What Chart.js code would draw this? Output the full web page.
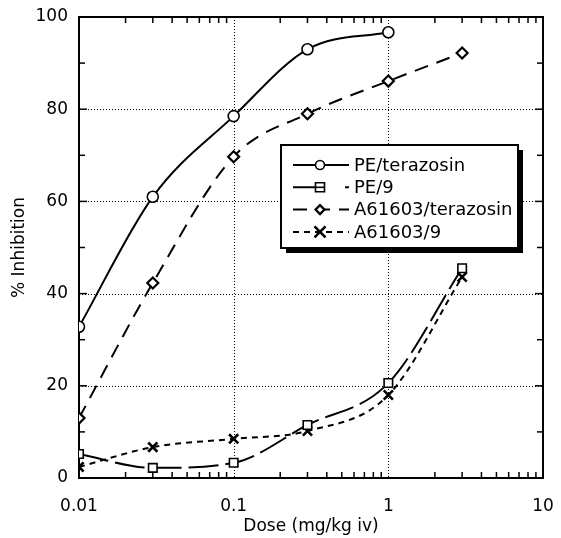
<!DOCTYPE html>
<html>
<head>
<meta charset="utf-8">
<script src="https://cdn.jsdelivr.net/npm/chart.js@4.4.1/dist/chart.umd.min.js"></script>
<style>
  html, body { margin: 0; background: #fff; }
  #wrap { width: 561px; height: 538px; }
</style>
</head>
<body>
<div id="wrap"><canvas id="chartCanvas"></canvas></div>
<script>
// Datos (dosis en mg/kg iv, % de inhibición)
const doses = [0.01, 0.03, 0.1, 0.3, 1, 3];
const seriesNames = ['PE/terazosin', 'PE/9', 'A61603/terazosin', 'A61603/9'];
const peTerazosin = [32.8, 61, 78.5, 93, 96.7, null];
const pe9 = [5.2, 2.2, 3.3, 11.5, 20.6, 45.5];
const a61603Terazosin = [13, 42.3, 69.7, 79, 86.1, 92.2];
const a61603_9 = [2.4, 6.7, 8.5, 10.2, 18, 43.6];

const xTickValues = [0.01, 0.1, 1, 10];
const xTickLabels = ['0.01', '0.1', '1', '10'];
const yTickValues = [0, 20, 40, 60, 80, 100];

// Convierte una serie a puntos {x, y}
const toPoints = (vals) => doses
  .map((d, i) => ({ x: d, y: vals[i] }))
  .filter(p => p.y !== null);

const FONT = 'DejaVu Sans';
Chart.defaults.font.family = FONT;
Chart.defaults.font.size = 17;
Chart.defaults.color = '#000';

const baseDs = {
  borderColor: '#000',
  backgroundColor: '#fff',
  pointBackgroundColor: '#fff',
  pointBorderColor: '#000',
  borderWidth: 2,
  pointBorderWidth: 1.6,
  pointRadius: 5.5,
  cubicInterpolationMode: 'monotone',
  fill: false
};

const datasets = [
  { ...baseDs, label: seriesNames[0], data: toPoints(peTerazosin), pointStyle: 'circle', borderDash: [] },
  { ...baseDs, label: seriesNames[1], data: toPoints(pe9), pointStyle: 'rect', pointRadius: 6, borderDash: [30, 7] },
  { ...baseDs, label: seriesNames[2], data: toPoints(a61603Terazosin), pointStyle: 'rectRot', pointBorderWidth: 2.2, borderDash: [14, 9] },
  { ...baseDs, label: seriesNames[3], data: toPoints(a61603_9), pointStyle: 'crossRot', pointRadius: 6.5, pointBorderWidth: 2.6, borderDash: [6, 5] }
];

// Dibuja un marcador simple para la leyenda
function drawMarker(ctx, style, x, y, r) {
  ctx.save();
  ctx.setLineDash([]);
  ctx.strokeStyle = '#000';
  ctx.fillStyle = '#fff';
  ctx.lineWidth = 1.6;
  ctx.beginPath();
  if (style === 'circle') {
    ctx.arc(x, y, r, 0, Math.PI * 2);
    ctx.fill(); ctx.stroke();
  } else if (style === 'rect') {
    ctx.rect(x - r, y - r, 2 * r, 2 * r);
    ctx.fill(); ctx.stroke();
    ctx.beginPath(); ctx.moveTo(x - r, y); ctx.lineTo(x + r, y); ctx.stroke();
  } else if (style === 'rectRot') {
    ctx.lineWidth = 2.2;
    ctx.moveTo(x, y - r); ctx.lineTo(x + r, y); ctx.lineTo(x, y + r); ctx.lineTo(x - r, y); ctx.closePath();
    ctx.fill(); ctx.stroke();
  } else {
    ctx.lineWidth = 2.6;
    ctx.moveTo(x - r, y - r); ctx.lineTo(x + r, y + r);
    ctx.moveTo(x + r, y - r); ctx.lineTo(x - r, y + r);
    ctx.stroke();
  }
  ctx.restore();
}

// Rejilla punteada, marco y marcas interiores
const framePlugin = {
  id: 'frame',
  beforeDatasetsDraw(chart) {
    const { ctx, chartArea: a, scales: { x, y } } = chart;
    ctx.save();
    ctx.strokeStyle = '#000';
    ctx.lineWidth = 1;
    ctx.setLineDash([1, 2]);
    xTickValues.slice(1, -1).forEach(v => {
      const px = Math.round(x.getPixelForValue(v)) + 0.5;
      ctx.beginPath(); ctx.moveTo(px, a.top); ctx.lineTo(px, a.bottom); ctx.stroke();
    });
    yTickValues.slice(1, -1).forEach(v => {
      const py = Math.round(y.getPixelForValue(v)) + 0.5;
      ctx.beginPath(); ctx.moveTo(a.left, py); ctx.lineTo(a.right, py); ctx.stroke();
    });
    ctx.setLineDash([]);
    ctx.lineWidth = 1.5;
    // marcas menores en el eje x (log)
    xTickValues.slice(0, -1).forEach(dec => {
      for (let m = 2; m <= 9; m++) {
        const px = x.getPixelForValue(dec * m);
        ctx.beginPath(); ctx.moveTo(px, a.bottom); ctx.lineTo(px, a.bottom - 6); ctx.stroke();
        ctx.beginPath(); ctx.moveTo(px, a.top); ctx.lineTo(px, a.top + 6); ctx.stroke();
      }
    });
    // marcas en el eje y cada 10
    for (let v = 10; v < 100; v += 10) {
      const py = y.getPixelForValue(v);
      const len = v % 20 === 0 ? 8 : 6;
      ctx.beginPath(); ctx.moveTo(a.left, py); ctx.lineTo(a.left + len, py); ctx.stroke();
      ctx.beginPath(); ctx.moveTo(a.right, py); ctx.lineTo(a.right - len, py); ctx.stroke();
    }
    ctx.lineWidth = 2;
    ctx.strokeRect(a.left, a.top, a.right - a.left, a.bottom - a.top);
    ctx.restore();
  },
  afterDraw(chart) {
    const { ctx } = chart;
    const bx = 281, by = 145, bw = 237, bh = 103;
    ctx.save();
    ctx.fillStyle = '#000';
    ctx.fillRect(bx + 5, by + 5, bw, bh);
    ctx.fillStyle = '#fff';
    ctx.fillRect(bx, by, bw, bh);
    ctx.strokeStyle = '#000';
    ctx.lineWidth = 2;
    ctx.strokeRect(bx, by, bw, bh);
    chart.data.datasets.forEach((ds, i) => {
      const ry = by + 20 + i * 22.3;
      ctx.save();
      ctx.strokeStyle = '#000';
      ctx.lineWidth = 2;
      ctx.setLineDash(i === 1 ? [28, 24] : ds.borderDash);
      ctx.beginPath(); ctx.moveTo(293, ry); ctx.lineTo(349, ry); ctx.stroke();
      ctx.restore();
      drawMarker(ctx, ds.pointStyle, 320, ry, i === 3 ? 5.5 : 4.5);
      ctx.fillStyle = '#000';
      ctx.font = '18px "' + FONT + '"';
      ctx.textBaseline = 'middle';
      ctx.textAlign = 'left';
      ctx.fillText(ds.label, 354, ry + 1);
    });
    ctx.restore();
  }
};

new Chart(document.getElementById('chartCanvas').getContext('2d'), {
  type: 'line',
  data: { datasets },
  options: {
    responsive: true,
    maintainAspectRatio: false,
    animation: false,
    layout: { padding: { top: 17, right: 18, left: 0, bottom: 0 } },
    plugins: { legend: { display: false }, tooltip: { enabled: false } },
    scales: {
      x: {
        type: 'logarithmic',
        min: 0.01,
        max: 10,
        grid: { display: false, drawTicks: false },
        border: { display: false },
        afterBuildTicks: (s) => { s.ticks = xTickValues.map(v => ({ value: v })); },
        afterFit: (s) => { s.height = 60; s.paddingLeft = 0; s.paddingRight = 0; },
        ticks: {
          padding: 18,
          maxRotation: 0,
          autoSkip: false,
          callback: (v, i) => xTickLabels[i]
        },
        title: { display: true, text: 'Dose (mg/kg iv)', padding: { top: 0, bottom: 1 } }
      },
      y: {
        min: 0,
        max: 100,
        grid: { display: false, drawTicks: false },
        border: { display: false },
        afterBuildTicks: (s) => { s.ticks = yTickValues.map(v => ({ value: v })); },
        afterFit: (s) => { s.width = 79; s.paddingTop = 0; s.paddingBottom = 0; },
        ticks: { padding: 11 },
        title: { display: true, text: '% Inhibition', padding: { top: 9, bottom: 0 } }
      }
    }
  },
  plugins: [framePlugin]
});
</script>
</body>
</html>
